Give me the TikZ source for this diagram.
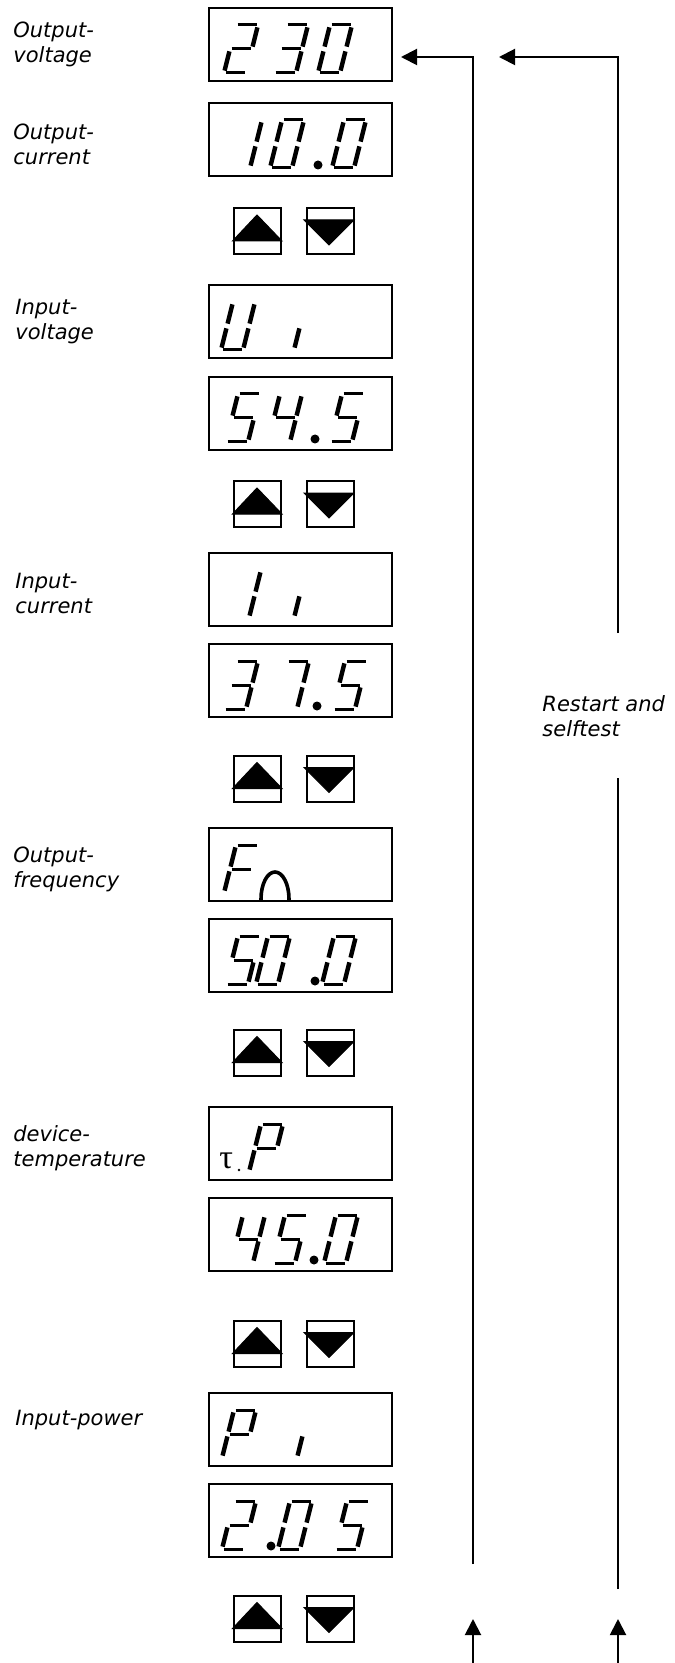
\documentclass[tikz,border=0pt]{standalone}
\usepackage{fontspec}
\newfontfamily\lblfont{DejaVu Sans}
\newfontfamily\taufont{Liberation Serif}
\usetikzlibrary{arrows.meta,calc}
% seven-segment pieces, relative to the bottom-left corner (y grows downwards)
\def\sga{\draw[hseg] (13.5,-48)--(32.5,-48);}
\def\sgb{\draw[vseg] (33.4,-45.6)--(28.6,-26.4);}
\def\sgc{\draw[vseg] (27.4,-21.6)--(22.6,-2.4);}
\def\sgd{\draw[hseg] (1.5,0)--(20.5,0);}
\def\sge{\draw[vseg] (5.4,-21.6)--(0.6,-2.4);}
\def\sgf{\draw[vseg] (11.4,-45.6)--(6.6,-26.4);}
\def\sgg{\draw[hseg] (7.5,-24)--(26.5,-24);}
\def\dZero{\sga\sgb\sgc\sgd\sge\sgf}
\def\dOne{\sgb\sgc}
\def\dTwo{\sga\sgb\sgg\sge\sgd}
\def\dThree{\sga\sgb\sgg\sgc\sgd}
\def\dFour{\sgf\sgg\sgb\sgc}
\def\dFive{\sga\sgf\sgg\sgc\sgd}
\def\dSeven{\sga\sgb\sgc}
\def\dU{\sgb\sgc\sgd\sge\sgf}
\def\dF{\sga\sge\sgf\sgg}
\def\dP{\sga\sgb\sge\sgf\sgg}
\def\dI{\sge}
\begin{document}
\begin{tikzpicture}[x=0.5pt,y=-0.5pt,
  dispbox/.style={draw,line width=1pt,minimum width=91.5pt,minimum height=36.5pt,inner sep=0pt},
  btn/.style={draw,line width=1pt,minimum width=23.5pt,minimum height=23pt,inner sep=0pt},
  tri/.style={fill=black,draw=black,line width=0.5pt,line join=miter},
  vseg/.style={line width=2.2pt,line cap=butt},
  hseg/.style={line width=1.5pt,line cap=butt},
  lbl/.style={font=\lblfont\itshape\fontsize{10.5pt}{12.5pt}\selectfont,align=left,inner sep=0pt,anchor=base west},
  conn/.style={line width=1pt},
  arr/.style={conn,-{Triangle[length=8pt,width=8pt]}},
  pics/dg/.style={code={#1}}
]
\path[fill=white] (0,0) rectangle (674,1663);
\useasboundingbox (0,0) rectangle (674,1663);

% labels (base = baseline of the last line)
\node[lbl] (l1) at (13,63) {Output-\\voltage};
\node[lbl] (l2) at (13,165) {Output-\\current};
\node[lbl] (l3) at (15,340) {Input-\\voltage};
\node[lbl] (l4) at (15,613) {Input-\\current};
\node[lbl] (l5) at (13,887) {Output-\\frequency};
\node[lbl] (l6) at (13,1166) {device-\\temperature};
\node[lbl] (l7) at (15,1425) {Input-power};
\node[lbl] (rst) at (542,736) {Restart and\\selftest};

% display boxes
\node[dispbox] (ov)  at (300.5,44.5) {};
\node[dispbox] (oc)  at (300.5,139.5) {};
\node[dispbox] (iv)  at (300.5,321.5) {};
\node[dispbox] (ivv) at (300.5,413.5) {};
\node[dispbox] (ic)  at (300.5,589.5) {};
\node[dispbox] (icv) at (300.5,680.5) {};
\node[dispbox] (of)  at (300.5,864.5) {};
\node[dispbox] (ofv) at (300.5,955.5) {};
\node[dispbox] (dt)  at (300.5,1143.5) {};
\node[dispbox] (dtv) at (300.5,1234.5) {};
\node[dispbox] (ip)  at (300.5,1429.5) {};
\node[dispbox] (ipv) at (300.5,1520.5) {};

% buttons
\foreach \i/\y in {1/231,2/504,3/778.5,4/1052.5,5/1343.5,6/1618.5}{
  \node[btn] (up\i) at (257.5,\y) {};
  \node[btn] (dn\i) at (330,\y) {};
  \filldraw[tri] ($(up\i)+(-25,10)$) -- ($(up\i)+(24.5,10)$) -- ($(up\i)+(-0.5,-16)$) -- cycle;
  \filldraw[tri] ($(dn\i)+(-26,-11)$) -- ($(dn\i)+(24,-11)$) -- ($(dn\i)+(-1,14)$) -- cycle;
}

% 230
\pic at (224,73) {dg={\dTwo}};
\pic at (274,73) {dg={\dThree}};
\pic at (318,73) {dg={\dZero}};
% 10.0
\pic at (228,168) {dg={\dOne}};
\pic at (270,168) {dg={\dZero}};
\fill (318,165) circle[radius=4.5];
\pic at (332,168) {dg={\dZero}};
% Ui
\pic at (221,350) {dg={\dU}};
\pic at (294,350) {dg={\dI}};
% 54.5
\pic at (226,442) {dg={\dFive}};
\pic at (268,442) {dg={\dFour}};
\fill (315,439) circle[radius=4.5];
\pic at (330,442) {dg={\dFive}};
% Ii
\pic at (227,618) {dg={\dOne}};
\pic at (294,618) {dg={\dI}};
% 37.5
\pic at (224,709) {dg={\dThree}};
\pic at (275,709) {dg={\dSeven}};
\fill (317,706) circle[radius=4.5];
\pic at (333,709) {dg={\dFive}};
% Fo
\pic at (224,893) {dg={\dF}};
\draw[line width=1.8pt] (261,901) -- (261,899) arc[start angle=180,end angle=360,x radius=14,y radius=27] -- (289,901);
% 50.0
\pic at (226,984) {dg={\dFive}};
\pic at (256,984) {dg={\dZero}};
\fill (315,981) circle[radius=4.5];
\pic at (322,984) {dg={\dZero}};
% tau.P
\node[font=\taufont\fontsize{17pt}{17pt}\selectfont,anchor=base west,inner sep=0pt] (tau) at (219,1168) {τ};
\fill (239,1170) circle[radius=1.3];
\pic at (249,1172) {dg={\dP}};
% 45.0
\pic at (231,1263) {dg={\dFour}};
\pic at (273,1263) {dg={\dFive}};
\fill (314,1260) circle[radius=4.5];
\pic at (324,1263) {dg={\dZero}};
% Pi
\pic at (222,1458) {dg={\dP}};
\pic at (297,1458) {dg={\dI}};
% 2.05
\pic at (222,1549) {dg={\dTwo}};
\fill (271,1546) circle[radius=4.5];
\pic at (278,1549) {dg={\dZero}};
\pic at (335,1549) {dg={\dFive}};

% connectors
\coordinate (lbot) at (473,1663);
\coordinate (ltip) at (473,1619);
\draw[arr] (lbot) -- (ltip);
\coordinate (lret) at (473,1564);
\draw[arr,shorten >=4pt] (lret) |- ($(ov.east)+(0,12.5)$);
\coordinate (rbot) at (618,1663);
\coordinate (rtip) at (618,1619);
\draw[arr] (rbot) -- (rtip);
\coordinate (rlow) at (618,1589);
\coordinate (rmid) at (618,778);
\draw[conn] (rlow) -- (rmid);
\coordinate (rup) at (618,633);
\coordinate (rend) at (499,57);
\draw[arr] (rup) |- (rend);
\end{tikzpicture}
\end{document}
